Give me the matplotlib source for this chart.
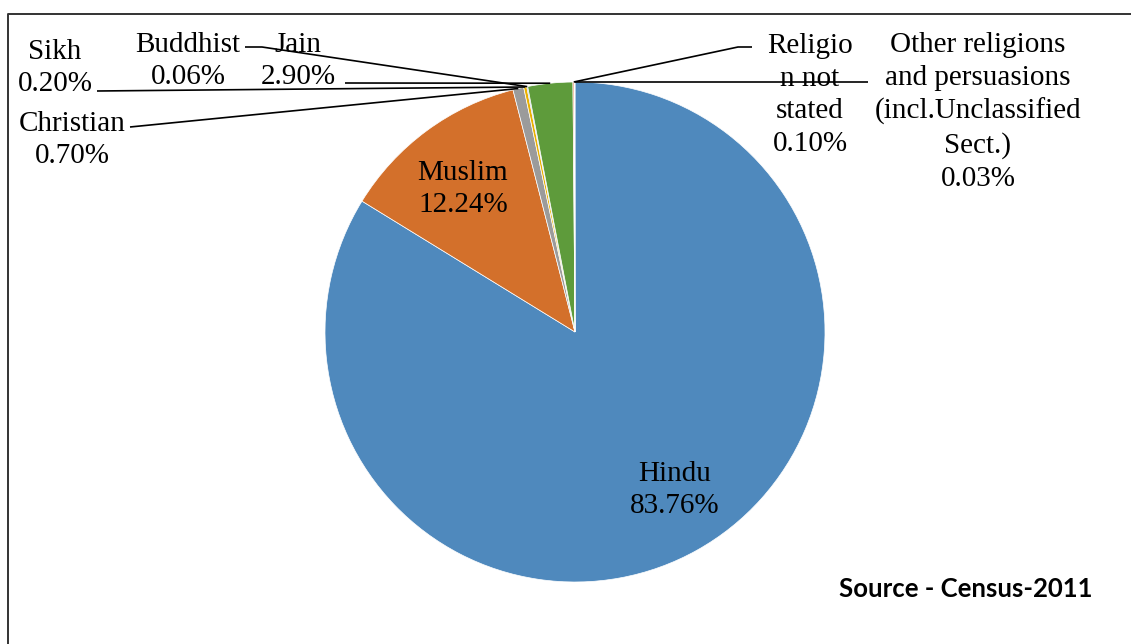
import matplotlib.pyplot as plt
import numpy as np

# data
categories = ['Hindu', 'Muslim', 'Christian', 'Sikh', 'Buddhist', 'Jain',
              'Religio\nn not\nstated',
              'Other religions\nand persuasions\n(incl.Unclassified\nSect.)']
shares = [83.76, 12.24, 0.70, 0.20, 0.06, 2.90, 0.10, 0.03]
colors = ['#4F89BD', '#D3702B', '#9B9B9B', '#E9B000', '#4A72B8',
          '#5E9B3B', '#F2A07E', '#F08C3A']

W, H = 1131, 644
fig = plt.figure(figsize=(W / 100, H / 100), dpi=100)
ax = fig.add_axes([0, 0, 1, 1])

# pie in pixel-like coordinates (y measured from the bottom)
cx, cy, r = 575, H - 332, 250
wedges, _ = ax.pie(shares, colors=colors, startangle=90, counterclock=False,
                   center=(cx, cy), radius=r,
                   wedgeprops=dict(edgecolor='white', linewidth=0.5))
ax.set_xlim(0, W)
ax.set_ylim(0, H)
ax.set_aspect('equal')
ax.axis('off')

font = dict(family='Liberation Serif', size=21, color='black', linespacing=1.33)


def lab(i):
    return '%s\n%.2f%%' % (categories[i], shares[i])


def edge(i):
    w = wedges[i]
    a = np.deg2rad((w.theta1 + w.theta2) / 2)
    return cx + r * np.cos(a), cy + r * np.sin(a)


# labels inside the big slices
ax.text(675, H - 490, lab(0), ha='center', va='center', **font)
ax.text(463, H - 189, lab(1), ha='center', va='center', **font)

# outside labels: text centre, then the leader line path (image coords)
outside = {
    2: ((72, 140), [(130, 127)]),
    3: ((55, 68), [(97, 91)]),
    4: ((188, 61), [(245, 47), (262, 47)]),
    5: ((298, 61), [(345, 83)]),
    6: ((810, 95), [(752, 47), (738, 47)]),
    7: ((978, 112), [(868, 82)]),
}
for i, ((tx, ty), path) in outside.items():
    ax.text(tx, H - ty, lab(i), ha='center', va='center', **font)
    ex, ey = edge(i)
    xs = [p[0] for p in path] + [ex]
    ys = [H - p[1] for p in path] + [ey]
    ax.plot(xs, ys, color='black', linewidth=1.2, solid_capstyle='butt')

ax.text(966, H - 589, 'Source - Census-2011', ha='center', va='center',
        family='Lato', fontweight='bold', fontsize=18.5)

# outer frame of the chart area
ax.plot([7.5, 7.5, W + 5], [-5, H - 13.5, H - 13.5], color='#333333', linewidth=1.4)

fig.savefig('out.png', dpi=100)
